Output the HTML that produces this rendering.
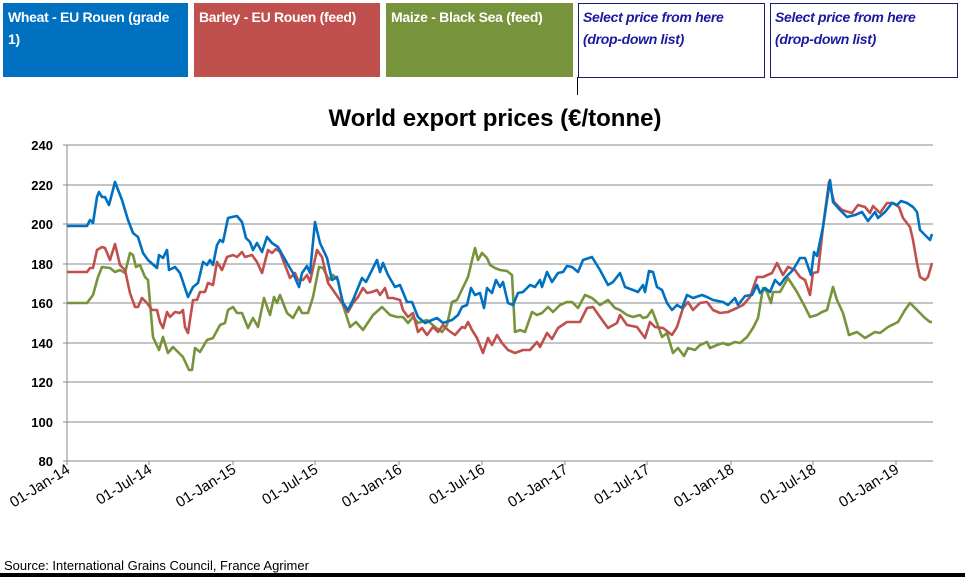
<!DOCTYPE html>
<html><head><meta charset="utf-8"><style>
body{margin:0;width:965px;height:577px;background:#fff;overflow:hidden;position:relative;font-family:"Liberation Sans",sans-serif}
.b{position:absolute;top:3px;height:74px;color:#fff;font-weight:bold;font-size:14px;line-height:22px;padding:3px 5px;box-sizing:border-box;letter-spacing:-0.3px}
.w{position:absolute;top:3px;height:75px;border:1.5px solid #1a1a7a;box-sizing:border-box;color:#1a1aa0;font-weight:bold;font-style:italic;font-size:14px;line-height:22px;padding:2px 4px;letter-spacing:-0.3px}
</style></head><body>
<div class="b" style="left:3px;width:185px;background:#0070c0">Wheat - EU Rouen (grade 1)</div>
<div class="b" style="left:194px;width:186px;background:#c0504d">Barley - EU Rouen (feed)</div>
<div class="b" style="left:386px;width:187px;background:#77933c">Maize - Black Sea (feed)</div>
<div class="w" style="left:578px;width:187px">Select price from here (drop-down list)</div>
<div class="w" style="left:770px;width:188px">Select price from here (drop-down list)</div>
<div style="position:absolute;left:577px;top:77px;width:1px;height:18px;background:#000"></div>
<div style="position:absolute;left:0;top:573px;width:965px;height:4px;background:#000"></div>
<svg width="965" height="577" style="position:absolute;left:0;top:0" font-family="Liberation Sans, sans-serif">
<text x="495" y="126" text-anchor="middle" font-size="24" font-weight="bold">World export prices (€/tonne)</text>
<g stroke="#888" stroke-width="1">
<line x1="63" y1="145" x2="933" y2="145"/><line x1="63" y1="185" x2="933" y2="185"/><line x1="63" y1="224" x2="933" y2="224"/><line x1="63" y1="264" x2="933" y2="264"/><line x1="63" y1="303" x2="933" y2="303"/><line x1="63" y1="343" x2="933" y2="343"/><line x1="63" y1="382" x2="933" y2="382"/><line x1="63" y1="422" x2="933" y2="422"/><line x1="63" y1="461" x2="933" y2="461"/>
<line x1="67" y1="145" x2="67" y2="465"/>
<line x1="149" y1="461" x2="149" y2="465"/><line x1="233" y1="461" x2="233" y2="465"/><line x1="315" y1="461" x2="315" y2="465"/><line x1="399" y1="461" x2="399" y2="465"/><line x1="482" y1="461" x2="482" y2="465"/><line x1="565" y1="461" x2="565" y2="465"/><line x1="647" y1="461" x2="647" y2="465"/><line x1="731" y1="461" x2="731" y2="465"/><line x1="813" y1="461" x2="813" y2="465"/><line x1="896" y1="461" x2="896" y2="465"/>
</g>
<g font-size="13" font-weight="bold" text-anchor="end">
<text x="53" y="150">240</text><text x="53" y="190">220</text><text x="53" y="229">200</text><text x="53" y="269">180</text><text x="53" y="308">160</text><text x="53" y="348">140</text><text x="53" y="387">120</text><text x="53" y="427">100</text><text x="53" y="466">80</text>
</g>
<g font-size="15" text-anchor="end">
<text transform="translate(71,472) rotate(-32)">01-Jan-14</text>
<text transform="translate(153,472) rotate(-32)">01-Jul-14</text>
<text transform="translate(237,472) rotate(-32)">01-Jan-15</text>
<text transform="translate(319,472) rotate(-32)">01-Jul-15</text>
<text transform="translate(403,472) rotate(-32)">01-Jan-16</text>
<text transform="translate(486,472) rotate(-32)">01-Jul-16</text>
<text transform="translate(569,472) rotate(-32)">01-Jan-17</text>
<text transform="translate(651,472) rotate(-32)">01-Jul-17</text>
<text transform="translate(735,472) rotate(-32)">01-Jan-18</text>
<text transform="translate(817,472) rotate(-32)">01-Jul-18</text>
<text transform="translate(900,472) rotate(-32)">01-Jan-19</text>
</g>
<g fill="none" stroke-width="2.6" stroke-linejoin="round">
<polyline stroke="#77933c" points="67,303 87,303 93,295 98,277 102,267 110,268 115,272 120,270 125,273 130,253 133,255 136,267 140,265 145,277 148,280 153,337 159,350 163,337 168,353 173,347 183,357 189,370 192,370 195,348 200,352 207,340 213,338 220,325 225,323 228,310 233,307 237,313 242,313 248,328 253,318 258,327 264,298 270,315 274,297 277,303 280,295 287,313 293,318 299,307 302,313 308,313 313,297 319,267 323,268 329,280 333,275 338,280 343,305 350,327 356,322 363,330 373,315 382,307 390,315 397,317 403,317 408,323 413,317 418,323 427,320 435,327 442,332 447,325 452,302 457,300 468,277 475,248 478,260 482,253 487,258 490,265 495,268 500,270 507,271 512,275 515,332 520,330 525,332 532,312 537,315 542,313 548,307 553,312 560,305 567,302 572,302 578,308 585,295 592,298 600,305 608,300 615,308 620,310 627,315 633,317 640,315 643,318 647,317 652,310 657,323 662,337 667,333 673,353 678,348 684,356 688,348 695,350 700,345 707,342 710,348 717,345 723,343 728,345 735,342 740,343 747,337 753,328 758,318 763,288 767,292 771,303 773,292 780,292 788,278 797,292 805,307 810,317 817,315 822,312 827,310 833,287 837,300 843,313 849,335 857,332 865,338 875,332 880,333 888,327 898,322 905,310 910,303 917,310 925,318 930,322 932,322"/>
<polyline stroke="#c0504d" points="67,272 87,272 90,268 93,268 97,250 102,247 105,248 110,260 115,244 120,265 125,270 130,293 135,307 138,307 142,298 147,303 152,310 157,310 160,322 163,328 167,312 170,317 175,312 180,313 183,310 185,327 188,333 193,300 197,300 200,292 205,292 208,283 213,285 217,262 222,270 227,257 233,255 237,257 242,252 245,257 252,255 257,262 262,273 268,250 272,253 276,249 280,252 285,265 290,278 295,273 298,280 303,280 307,275 310,282 317,250 322,257 328,283 333,290 342,303 348,312 353,303 358,297 363,288 367,293 372,292 377,290 380,295 385,288 388,298 393,298 400,300 403,310 408,317 413,313 418,332 422,328 427,335 433,327 438,332 443,325 448,330 455,335 462,327 465,328 468,322 472,330 477,338 483,353 488,338 492,345 497,335 502,343 508,350 515,353 523,350 530,350 537,342 540,347 547,333 552,339 558,328 567,322 575,322 580,322 587,308 593,307 600,317 608,328 617,323 620,315 627,325 637,327 645,338 650,322 655,327 663,328 672,335 677,327 683,308 688,302 693,310 700,303 707,302 713,310 720,313 728,312 737,308 743,305 750,297 757,277 763,277 772,273 777,263 783,275 788,267 795,270 800,277 805,280 810,295 813,273 818,272 823,227 829,182 834,202 842,210 852,213 858,205 865,207 870,213 873,206 880,213 887,203 893,203 899,207 903,218 910,227 913,240 917,263 920,277 925,280 928,277 932,263"/>
<polyline stroke="#0070c0" points="67,226 87,226 90,220 93,223 97,197 99,192 102,197 105,197 109,205 115,182 122,200 128,220 133,233 138,237 143,253 148,260 157,268 159,255 163,258 167,250 169,270 175,267 180,273 188,297 193,287 198,283 203,262 207,265 210,260 213,265 217,245 220,240 223,242 228,218 232,217 237,216 242,222 246,238 250,242 253,250 257,243 262,252 267,237 272,243 278,247 287,263 293,273 299,287 302,273 307,266 310,273 315,222 320,243 327,258 332,280 337,277 343,303 348,310 353,300 362,278 366,282 372,270 377,260 380,272 383,263 388,275 395,287 400,285 407,302 412,302 418,317 425,323 432,320 437,318 443,323 452,320 458,315 462,307 467,305 471,288 475,295 480,293 484,308 487,288 492,293 496,280 500,287 503,282 508,303 513,305 518,293 523,292 530,285 535,287 540,280 542,287 547,272 552,282 558,273 563,272 567,266 572,267 578,272 583,260 592,257 600,270 608,285 613,282 620,273 625,287 633,290 638,292 643,285 645,292 649,271 653,272 657,287 662,290 667,303 672,310 677,305 682,308 687,295 693,298 702,295 707,297 713,300 723,302 728,305 735,298 738,305 745,296 752,295 757,285 760,293 765,288 770,292 775,280 780,285 785,278 793,270 800,258 805,258 811,275 814,252 817,256 823,227 830,180 833,202 840,210 847,217 855,215 862,212 868,221 875,212 878,218 885,212 892,203 897,205 901,201 907,203 913,207 917,212 920,230 925,235 930,240 932,234"/>
</g>
<text x="4" y="570" font-size="13">Source: International Grains Council, France Agrimer</text>
</svg>
</body></html>
